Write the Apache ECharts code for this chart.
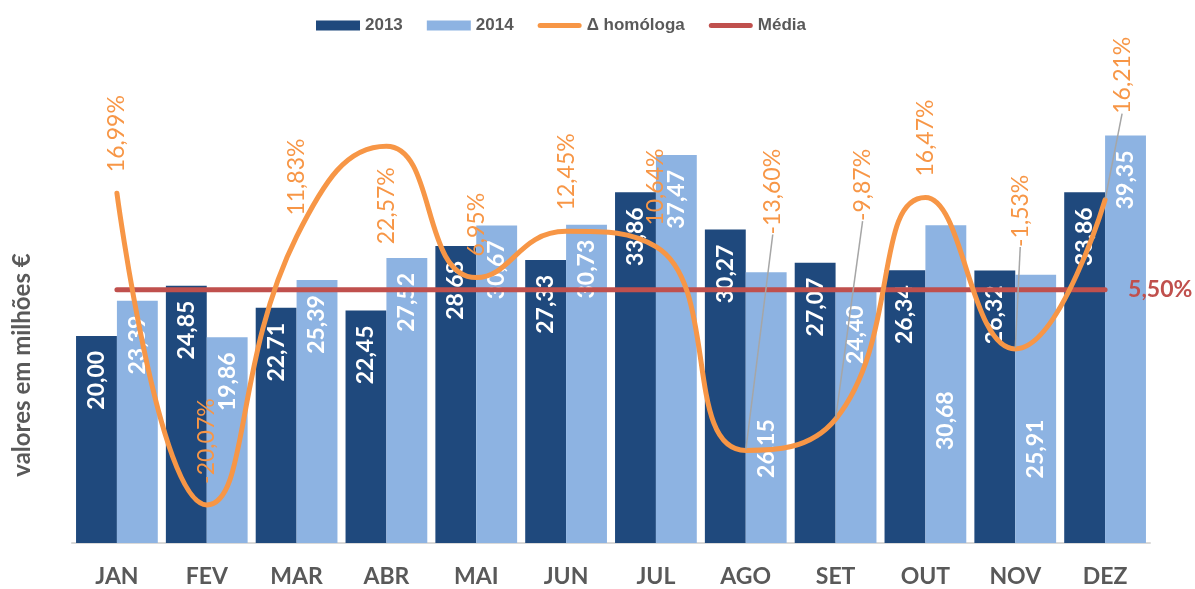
<!DOCTYPE html>
<html>
<head>
<meta charset="utf-8">
<script src="https://cdn.jsdelivr.net/npm/echarts@6/dist/echarts.min.js"></script>
<style>
  html, body { margin: 0; padding: 0; background: #fff; }
  #chart { width: 1195px; height: 589px; }
</style>
</head>
<body>
<div id="chart"></div>
<script>
// meses
var months = ['JAN', 'FEV', 'MAR', 'ABR', 'MAI', 'JUN', 'JUL', 'AGO', 'SET', 'OUT', 'NOV', 'DEZ'];

// valores em milhões €
var values2013 = [20.00, 24.85, 22.71, 22.45, 28.68, 27.33, 33.86, 30.27, 27.07, 26.34, 26.32, 33.86];
var values2014 = [23.39, 19.86, 25.39, 27.52, 30.67, 30.73, 37.47, 26.15, 24.40, 30.68, 25.91, 39.35];

// variação homóloga (%)
var deltaHomologa = [16.99, -20.07, 11.83, 22.57, 6.95, 12.45, 10.64, -13.60, -9.87, 16.47, -1.53, 16.21];

// média da variação (%)
var mediaValues = [5.50, 5.50, 5.50, 5.50, 5.50, 5.50, 5.50, 5.50, 5.50, 5.50, 5.50, 5.50];

var chart = echarts.init(document.getElementById('chart'));

function fmt(v) {
    return v.toFixed(2).replace('.', ',');
}

// labels that were dragged by hand in the original (screen px: right, down)
var barLabelDrop = { 7: 132, 9: 151, 10: 130 };
var deltaLabelMove = { 7: [27, -195], 8: [27, -177], 10: [5, -81], 11: [17, -65] };
var deltaLabelBelow = [3];

var deltaData = deltaHomologa.map(function (v, i) {
    var item = { value: v };
    if (deltaLabelMove[i]) item.labelLine = { show: true };
    if (deltaLabelBelow.indexOf(i) >= 0) item.label = { position: 'bottom', align: 'right' };
    return item;
});

var mediaData = mediaValues.map(function (v, i) {
    if (i === mediaValues.length - 1) return { value: v, label: { show: true } };
    return v;
});

var lineIcon = 'path://M2.5,0 L41.5,0 A2.5,2.5 0 0 1 41.5,5 L2.5,5 A2.5,2.5 0 0 1 2.5,0 Z';

var barLabel = {
    show: true,
    position: 'insideTop',
    rotate: 90,
    align: 'right',
    verticalAlign: 'middle',
    distance: 15,
    color: '#fff',
    fontFamily: 'Lato',
    fontWeight: 'bold',
    fontSize: 23,
    formatter: function (p) { return fmt(p.value); }
};

var option = {
    animation: false,
    backgroundColor: '#fff',
    legend: {
        top: 12,
        left: 311,
        itemWidth: 44,
        itemHeight: 10,
        itemGap: 24,
        textStyle: { fontFamily: 'Liberation Sans, Arial', fontWeight: 'bold', fontSize: 17, color: '#595959' },
        data: [
            { name: '2013', icon: 'rect' },
            { name: '2014', icon: 'rect' },
            { name: 'Δ homóloga', icon: lineIcon },
            { name: 'Média', icon: lineIcon }
        ]
    },
    grid: { left: 72, right: 45, top: 77, bottom: 46, containLabel: false, outerBoundsMode: 'none' },
    xAxis: {
        type: 'category',
        data: months,
        axisTick: { show: false },
        axisLine: { lineStyle: { color: '#D9D9D9', width: 2 } },
        axisLabel: { margin: 22, fontFamily: 'Lato', fontWeight: 'bold', fontSize: 23, color: '#595959' }
    },
    yAxis: [{
        type: 'value',
        min: 0,
        max: 45,
        name: 'valores em milhões €',
        nameLocation: 'middle',
        nameRotate: 90,
        nameGap: 38,
        nameTextStyle: { fontFamily: 'Lato', fontWeight: 'bold', fontSize: 24, color: '#595959', padding: [0, 110, 0, 0] },
        axisLine: { show: false },
        axisTick: { show: false },
        axisLabel: { show: false },
        splitLine: { show: false }
    }, {
        type: 'value',
        min: -24.6,
        max: 30.8,
        show: false,
        splitLine: { show: false }
    }],
    series: [{
        name: '2013',
        type: 'bar',
        data: values2013,
        barGap: '0%',
        barCategoryGap: '9%',
        itemStyle: { color: '#1F497D' },
        label: barLabel
    }, {
        name: '2014',
        type: 'bar',
        data: values2014,
        itemStyle: { color: '#8DB3E2' },
        label: barLabel,
        // rotated labels: layout offsets work in the label's own frame
        labelLayout: function (params) {
            var d = barLabelDrop[params.dataIndex];
            return d ? { dx: -d } : {};
        }
    }, {
        name: 'Média',
        type: 'line',
        yAxisIndex: 1,
        data: mediaData,
        symbol: 'circle',
        symbolSize: 2,
        itemStyle: { color: '#C0504D' },
        lineStyle: { color: '#C0504D', width: 5, cap: 'round' },
        label: {
            show: false,
            position: 'right',
            distance: 22,
            color: '#C0504D',
            fontFamily: 'Lato',
            fontWeight: 'bold',
            fontSize: 23,
            formatter: function (p) { return fmt(p.value) + '%'; }
        },
        z: 3
    }, {
        name: 'Δ homóloga',
        type: 'line',
        yAxisIndex: 1,
        data: deltaData,
        smooth: 0.5,
        symbol: 'circle',
        symbolSize: 2,
        itemStyle: { color: '#F79646' },
        lineStyle: { color: '#F79646', width: 5, cap: 'round' },
        label: {
            show: true,
            position: 'top',
            rotate: 90,
            align: 'left',
            verticalAlign: 'middle',
            distance: 20,
            color: '#F79646',
            fontFamily: 'Lato',
            fontSize: 23,
            formatter: function (p) { return fmt(p.value) + '%'; }
        },
        labelLine: { show: false, lineStyle: { color: '#A6A6A6', width: 1.5 } },
        labelLayout: function (params) {
            var m = deltaLabelMove[params.dataIndex];
            return m ? { dx: -m[1], dy: m[0] } : {};
        },
        z: 4
    }]
};

chart.setOption(option);
</script>
</body>
</html>
